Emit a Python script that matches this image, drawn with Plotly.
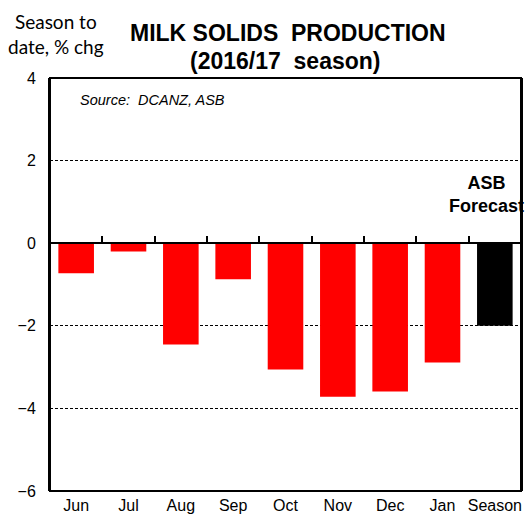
import plotly.graph_objects as go

categories = ["Jun", "Jul", "Aug", "Sep", "Oct", "Nov", "Dec", "Jan", "Season"]
values = [-0.73, -0.2, -2.45, -0.87, -3.06, -3.72, -3.59, -2.89, -2.0]
bar_colors = ["#ff0000"] * 8 + ["#000000"]
y_ticks = [4, 2, 0, -2, -4, -6]

FONT = "Liberation Sans, Arial, sans-serif"

fig = go.Figure()
fig.add_trace(go.Bar(
    x=categories, y=values, marker=dict(color=bar_colors, line=dict(width=0)),
    width=0.68, showlegend=False, hoverinfo="x+y",
))

y0, y1 = -6, 4
fig.update_layout(
    width=528, height=516,
    margin=dict(l=50, r=7, t=78, b=25, autoexpand=False),
    paper_bgcolor="white", plot_bgcolor="white",
    font=dict(family=FONT, color="black"),
    xaxis=dict(
        type="category", range=[-0.5, 8.5], automargin=False,
        anchor="free", position=(0 - y0) / (y1 - y0),
        showline=True, linecolor="black", linewidth=1.5,
        ticks="inside", tickson="boundaries", ticklen=6, tickwidth=1.5, tickcolor="black",
        ticklabelstandoff=248, tickangle=0,
        showgrid=False, tickfont=dict(size=16, family=FONT),
    ),
    yaxis=dict(
        range=[y0, y1], tickmode="array", tickvals=y_ticks, automargin=False,
        showline=True, linecolor="black", linewidth=2, mirror=True,
        ticklabelstandoff=9,
        showgrid=True, gridcolor="black", griddash="3px,2px", gridwidth=1.2,
        zeroline=False,
        tickfont=dict(size=16, family=FONT),
    ),
    shapes=[
        dict(type="rect", xref="paper", yref="paper", x0=0, x1=1, y0=0, y1=1,
             line=dict(color="black", width=2), fillcolor="rgba(0,0,0,0)", layer="above"),
    ],
    annotations=[
        dict(text="<b>MILK SOLIDS  PRODUCTION</b>",
             xref="paper", yref="paper", x=0.505, y=1.0, yshift=45,
             xanchor="center", yanchor="middle", showarrow=False,
             font=dict(size=23, family=FONT)),
        dict(text="<b>(2016/17  season)</b>",
             xref="paper", yref="paper", x=0.5, y=1.0, yshift=17,
             xanchor="center", yanchor="middle", showarrow=False,
             font=dict(size=23, family=FONT)),
        dict(text="Season to<br>date, % chg",
             xref="paper", yref="paper", x=0, xshift=-44, y=1.0, yshift=70,
             xanchor="left", yanchor="top", align="center", showarrow=False,
             font=dict(size=19, family="Lato, sans-serif")),
        dict(text="<i>Source:  DCANZ, ASB</i>",
             xref="paper", yref="paper", x=0.06, y=1.0, yshift=-22,
             xanchor="left", yanchor="middle", showarrow=False,
             font=dict(size=14.5, family=FONT)),
        dict(text="<b>ASB<br>Forecast</b>",
             xref="x", yref="y", x=7.85, y=1.18,
             xanchor="center", yanchor="middle", align="center", showarrow=False,
             font=dict(size=18, family=FONT)),
    ],
)

fig.write_html("out.html")
